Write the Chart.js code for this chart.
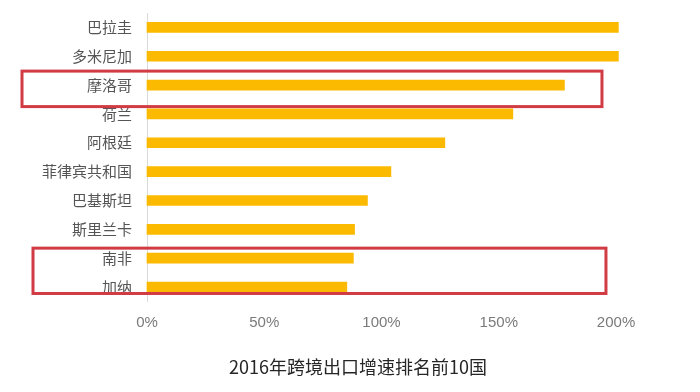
<!DOCTYPE html>
<html>
<head>
<meta charset="utf-8">
<script src="https://cdn.jsdelivr.net/npm/chart.js@4/dist/chart.umd.min.js"></script>
<style>
html,body{margin:0;padding:0;background:#fff;}
#wrap{width:700px;height:392px;position:relative;}
</style>
</head>
<body>
<div id="wrap"><canvas id="c"></canvas></div>
<script>
const categories = ['巴拉圭','多米尼加','摩洛哥','荷兰','阿根廷','菲律宾共和国','巴基斯坦','斯里兰卡','南非','加纳'];
const growth = [2.01, 2.01, 1.78, 1.56, 1.27, 1.04, 0.94, 0.885, 0.88, 0.852];
const xTicks = [0, 0.5, 1, 1.5, 2];
const titleText = '2016年跨境出口增速排名前10国';

// highlighted groups (category index ranges)
const highlights = [
  {from: 2, to: 2, leftOff: 125, rightVal: 1.94, topOff: 14, botOff: 21.5},
  {from: 8, to: 9, leftOff: 114, rightVal: 1.957, topOff: 10, botOff: 6.5}
];

const boxPlugin = {
  id: 'boxes',
  afterDatasetsDraw(chart) {
    const {ctx, chartArea, scales} = chart;
    const ys = scales.y, xs = scales.x;
    ctx.save();
    ctx.strokeStyle = '#d13b44';
    ctx.lineWidth = 3;
    highlights.forEach(h => {
      const top = ys.getPixelForValue(h.from) - h.topOff;
      const bot = ys.getPixelForValue(h.to) + h.botOff;
      const left = chartArea.left - h.leftOff;
      const right = xs.getPixelForValue(h.rightVal);
      ctx.strokeRect(left, top, right - left, bot - top);
    });
    ctx.restore();
  }
};

const cjk = '"Noto Sans CJK SC", "Noto Sans", sans-serif';

new Chart(document.getElementById('c'), {
  type: 'bar',
  data: {
    labels: categories,
    datasets: [{
      data: growth,
      backgroundColor: '#FBBA00',
      barThickness: 10,
      clip: false
    }]
  },
  options: {
    indexAxis: 'y',
    responsive: true,
    maintainAspectRatio: false,
    animation: false,
    layout: {padding: {top: 13, right: 0, left: 16, bottom: 0}},
    plugins: {
      legend: {display: false},
      tooltip: {enabled: false},
      title: {
        display: true,
        position: 'bottom',
        text: titleText,
        color: '#262626',
        font: {family: cjk, size: 18, weight: 'normal'},
        padding: {top: 10, bottom: 14}
      }
    },
    scales: {
      x: {
        min: 0,
        max: 2.358,
        afterBuildTicks(scale) { scale.ticks = xTicks.map(v => ({value: v})); },
        afterFit(scale) { scale.height = 45; scale.paddingLeft = 0; scale.paddingRight = 0; },
        grid: {display: false, drawTicks: false},
        border: {display: false},
        ticks: {
          padding: 12,
          color: '#7a7a7a',
          font: {family: '"Liberation Sans", Arial, sans-serif', size: 15},
          callback: v => Math.round(v * 100) + '%'
        }
      },
      y: {
        afterFit(scale) { scale.width = 131; scale.paddingTop = 0; scale.paddingBottom = 0; },
        grid: {display: false, drawTicks: false},
        border: {display: true, color: '#d9d9d9', width: 1},
        ticks: {
          padding: 15,
          color: '#555555',
          font: {family: cjk, size: 15}
        }
      }
    }
  },
  plugins: [boxPlugin]
});
</script>
</body>
</html>
